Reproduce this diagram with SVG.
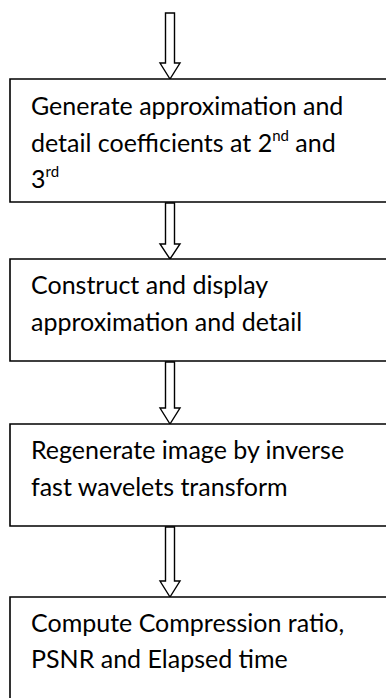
<svg xmlns="http://www.w3.org/2000/svg" width="386" height="698" viewBox="0 0 386 698">
<style>
.box{fill:#fff;stroke:#000;stroke-width:1.6}
.arr{fill:#fff;stroke:#000;stroke-width:1.4;stroke-linejoin:miter}
text{font-family:Lato,"Open Sans",sans-serif;font-size:25px;fill:#000}
.sup{font-size:15px}
</style>
<rect width="386" height="698" fill="#fff"/>
<g id="connectors">
<path class="arr" d="M165.5,13 H174.5 V63 H180 L170,79 L160,63 H165.5 Z"/>
<path class="arr" d="M165.5,203 H174.5 V244 H180 L170,259 L160,244 H165.5 Z"/>
<path class="arr" d="M165.5,362 H174.5 V408 H180 L170,424 L160,408 H165.5 Z"/>
<path class="arr" d="M165.5,527 H174.5 V581 H180 L170,597 L160,581 H165.5 Z"/>
</g>
<g id="n1">
<path class="box" d="M390,79 H10 V202 H390"/>
<text x="31" y="115">Generate approximation and</text>
<text x="31" y="152">detail coefficients at 2<tspan class="sup" dy="-11">nd</tspan><tspan dy="11"> and</tspan></text>
<text x="31" y="188">3<tspan class="sup" dy="-11">rd</tspan></text>
</g>
<g id="n2">
<path class="box" d="M390,259 H10 V361 H390"/>
<text x="31" y="294">Construct and display</text>
<text x="31" y="331">approximation and detail</text>
</g>
<g id="n3">
<path class="box" d="M390,424 H10 V526 H390"/>
<text x="31" y="459">Regenerate image by inverse</text>
<text x="31" y="496">fast wavelets transform</text>
</g>
<g id="n4">
<path class="box" d="M390,597 H10 V700"/>
<text x="31" y="632">Compute Compression ratio,</text>
<text x="31" y="668">PSNR and Elapsed time</text>
</g>
</svg>
